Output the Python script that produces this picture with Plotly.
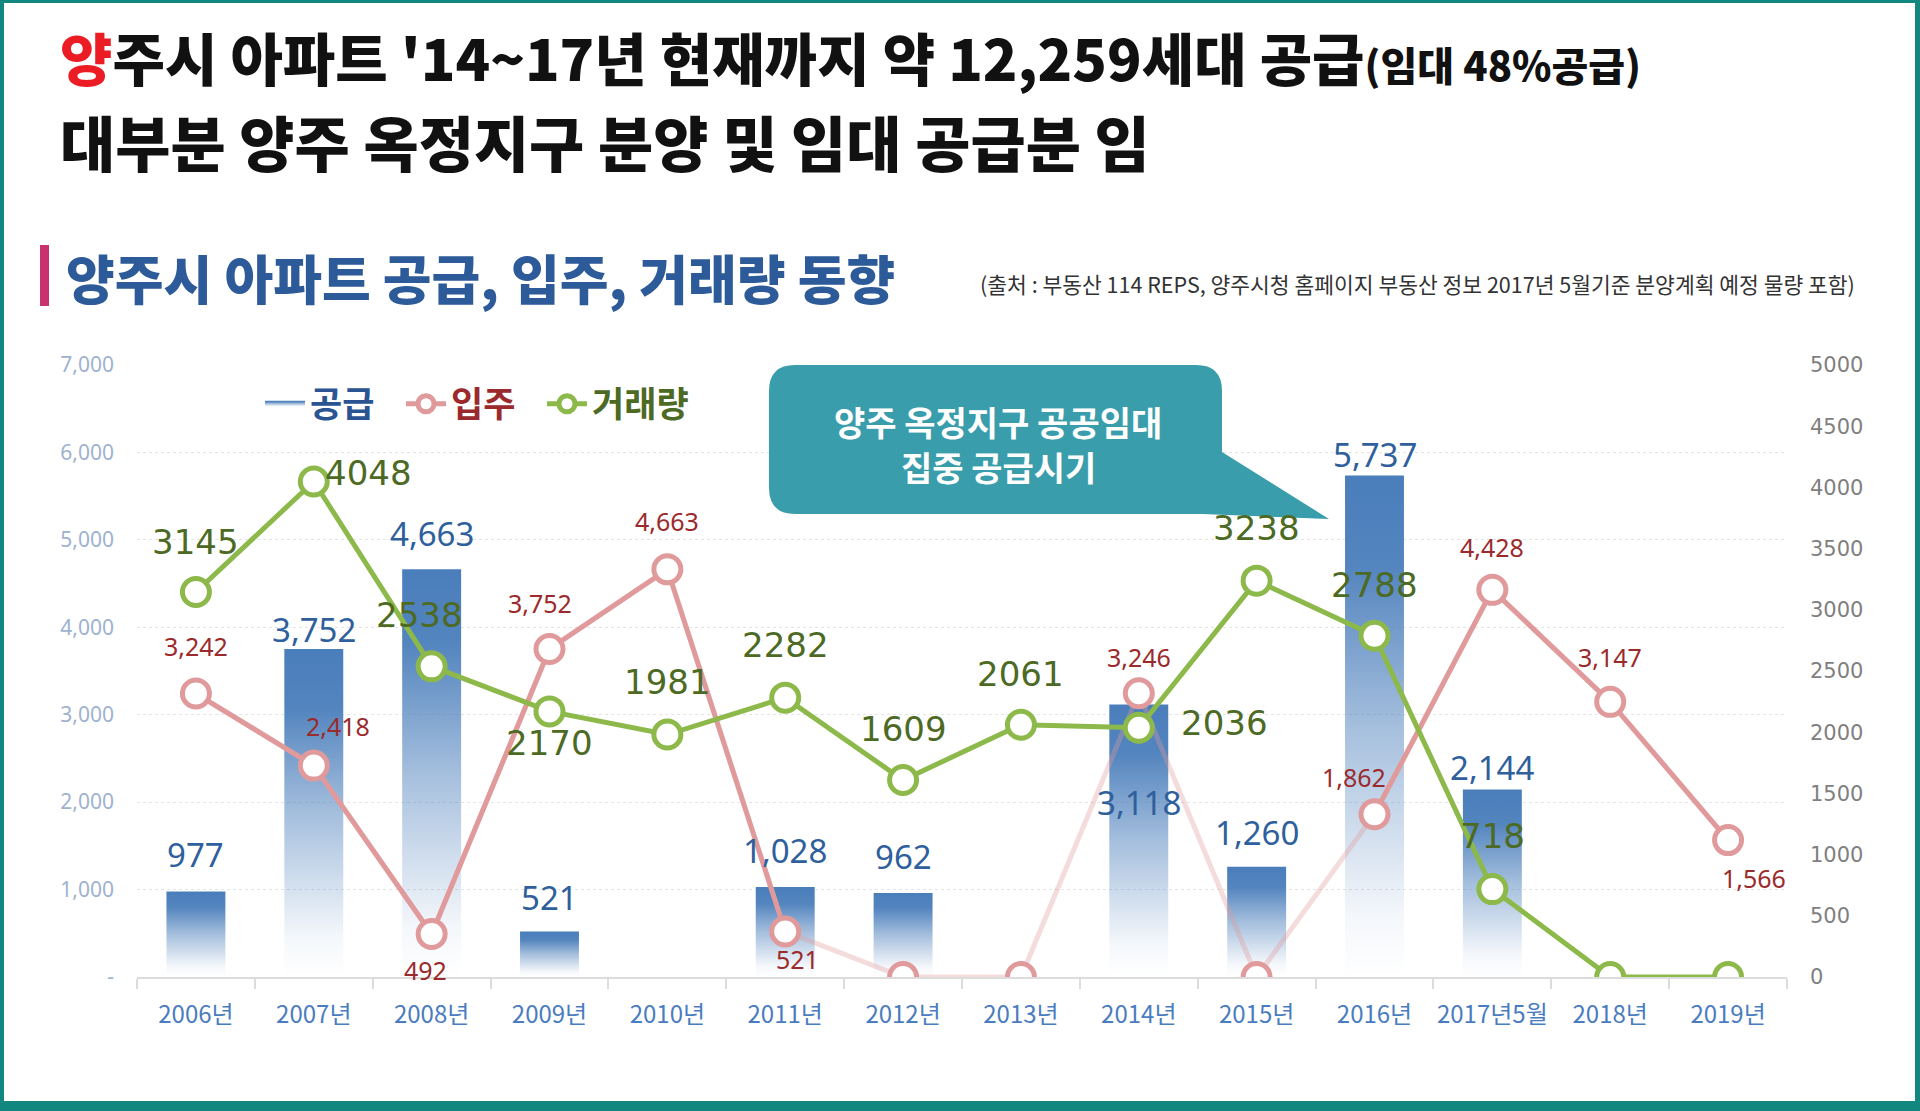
import plotly.graph_objects as go

# ---------------- data ----------------
categories = ['2006년', '2007년', '2008년', '2009년', '2010년', '2011년', '2012년',
              '2013년', '2014년', '2015년', '2016년', '2017년5월', '2018년', '2019년']
supply = [977, 3752, 4663, 521, None, 1028, 962, None, 3118, 1260, 5737, 2144, None, None]   # 공급
movein = [3242, 2418, 492, 3752, 4663, 521, 0, 0, 3246, 0, 1862, 4428, 3147, 1566]            # 입주
trades = [3145, 4048, 2538, 2170, 1981, 2282, 1609, 2061, 2036, 3238, 2788, 718, 0, 0]         # 거래량

left_tickvals = [0, 1000, 2000, 3000, 4000, 5000, 6000, 7000]
left_ticktext = ['-', '1,000', '2,000', '3,000', '4,000', '5,000', '6,000', '7,000']
right_tickvals = [0, 500, 1000, 1500, 2000, 2500, 3000, 3500, 4000, 4500, 5000]
right_ticktext = ['0', '500', '1000', '1500', '2000', '2500', '3000', '3500', '4000', '4500', '5000']

# ---------------- label offsets (style, px) ----------------
blue_dy = [37, 19, 36, 34, 0, 37, 36, 0, -98, 34, 21, 22, 0, 0]
pink_dx = [0, 24, -6, -10, 0, 12, 0, 0, 0, 0, -21, 0, 0, 26]
pink_dy = [48, 40, -36, 46, 48, -28, 0, 0, 36, 0, 37, 43, 45, -38]
green_dx = [0, 55, -12, 0, 0, 0, 0, 0, 86, 0, 0, 0, 0, 0]
green_dy = [50, 9, 51, -32, 53, 53, 51, 51, 5, 53, 51, 53, 0, 0]

# ---------------- colours ----------------
PINK = '#e09a9b'
PINK_FADE = 'rgba(224,154,155,0.35)'
GREEN = '#8cb94a'
BLUE_TXT = '#2f5f9c'
PINK_TXT = '#9b2a2c'
GREEN_TXT = '#4d6a24'
TEAL = '#12877f'

W, H = 1920, 1111
L, R, T, B = 137, 133, 365, 134
PW, PH = W - L - R, H - T - B


def px(x):
    return (x - L) / PW


def py(y):
    return (H - B - y) / PH


xs = list(range(len(categories)))
fig = go.Figure()

# bars with vertical gradient (white at bottom -> blue at top)
first = True
for i, v in enumerate(supply):
    if v is None:
        continue
    fig.add_trace(go.Scatter(
        x=[i - 0.25, i - 0.25, i + 0.25, i + 0.25, i - 0.25],
        y=[0, v, v, 0, 0],
        mode='none', fill='toself',
        fillgradient=dict(type='vertical',
                          colorscale=[[0, 'rgba(74,126,187,0.0)'], [0.12, 'rgba(74,126,187,0.06)'],
                                      [0.5, 'rgba(74,126,187,0.5)'], [0.82, 'rgba(74,126,187,0.95)'],
                                      [1, 'rgba(74,126,187,1)']]),
        name="<span style='color:#2b5592'>공급</span>", legendgroup='supply',
        showlegend=first, hoverinfo='skip'))
    first = False

# 입주 line: faded full path, strong path without zero points, markers
fig.add_trace(go.Scatter(x=xs, y=movein, mode='lines', line=dict(color=PINK_FADE, width=5),
                         showlegend=False, hoverinfo='skip'))
movein_strong = [v if v else None for v in movein]
fig.add_trace(go.Scatter(x=xs, y=movein_strong, mode='lines+markers',
                         line=dict(color=PINK, width=5),
                         marker=dict(size=27, color='white', line=dict(color=PINK, width=5)),
                         name="<span style='color:#9b2a2c'>입주</span>", connectgaps=False))
movein_zero = [v if v == 0 else None for v in movein]
fig.add_trace(go.Scatter(x=xs, y=movein_zero, mode='markers',
                         marker=dict(size=27, color='white', line=dict(color=PINK, width=5)),
                         showlegend=False))

# 거래량 line on right axis
fig.add_trace(go.Scatter(x=xs, y=trades, mode='lines+markers', yaxis='y2',
                         line=dict(color=GREEN, width=5),
                         marker=dict(size=27, color='white', line=dict(color=GREEN, width=5)),
                         name="<span style='color:#4d6a24'>거래량</span>"))
# invisible spacer entry so the last legend label is not clipped
fig.add_trace(go.Scatter(x=[None], y=[None], mode='lines', line=dict(color='rgba(0,0,0,0)'),
                         name=' ', showlegend=True, hoverinfo='skip'))

ann = []
# bar labels
for i, v in enumerate(supply):
    if v is None:
        continue
    ann.append(dict(x=i, y=v, xref='x', yref='y', text=f'{v:,}', showarrow=False,
                    yshift=blue_dy[i], font=dict(family='Noto Sans', size=33, color=BLUE_TXT)))
# 입주 labels
for i, v in enumerate(movein):
    if not v:
        continue
    ann.append(dict(x=i, y=v, xref='x', yref='y', text=f'{v:,}', showarrow=False,
                    xshift=pink_dx[i], yshift=pink_dy[i],
                    font=dict(family='Noto Sans', size=25, color=PINK_TXT)))
# 거래량 labels
for i, v in enumerate(trades):
    if not v:
        continue
    ann.append(dict(x=i, y=v, xref='x', yref='y2', text=f'{v}', showarrow=False,
                    xshift=green_dx[i], yshift=green_dy[i],
                    font=dict(family='DejaVu Sans', size=34, color=GREEN_TXT)))

# title lines
ann.append(dict(xref='paper', yref='paper', x=px(58), y=py(56), xanchor='left', yanchor='middle',
                showarrow=False,
                text="<span style='color:#ec1c24'>양</span>주시 아파트 '14~17년 현재까지 약 12,259세대 공급"
                     "<span style='font-size:40px'>(임대 48%공급)</span>",
                font=dict(family='Noto Sans CJK KR', size=57, color='#111111', weight=900)))
ann.append(dict(xref='paper', yref='paper', x=px(58), y=py(141), xanchor='left', yanchor='middle',
                showarrow=False, text='대부분 양주 옥정지구 분양 및 임대 공급분 임',
                font=dict(family='Noto Sans CJK KR', size=60, color='#111111', weight=900)))
ann.append(dict(xref='paper', yref='paper', x=px(64), y=py(277), xanchor='left', yanchor='middle',
                showarrow=False, text='양주시 아파트 공급, 입주, 거래량 동향',
                font=dict(family='Noto Sans CJK KR', size=53, color='#2d5a98', weight=900)))
ann.append(dict(xref='paper', yref='paper', x=px(978), y=py(283), xanchor='left', yanchor='middle',
                showarrow=False,
                text='(출처 : 부동산 114 REPS, 양주시청 홈페이지 부동산 정보 2017년 5월기준 분양계획 예정 물량 포함)',
                font=dict(family='Noto Sans CJK KR', size=21.5, color='#333333')))
# callout text (two lines)
ann.append(dict(xref='paper', yref='paper', x=px(998), y=py(421), xanchor='center', yanchor='middle',
                showarrow=False, text='양주 옥정지구 공공임대',
                font=dict(family='Noto Sans CJK KR', size=34, color='white', weight=700)))
ann.append(dict(xref='paper', yref='paper', x=px(998), y=py(466), xanchor='center', yanchor='middle',
                showarrow=False, text='집중 공급시기',
                font=dict(family='Noto Sans CJK KR', size=34, color='white', weight=700)))

# shapes: frame, magenta marker, callout
shapes = []


def rect(x0, y0, x1, y1, color, layer='above'):
    return dict(type='rect', xref='paper', yref='paper', x0=px(x0), x1=px(x1), y0=py(y0), y1=py(y1),
                fillcolor=color, line=dict(width=0), layer=layer)


shapes.append(rect(0, 0, 4, H, TEAL))
shapes.append(rect(W - 5, 0, W, H, TEAL))
shapes.append(rect(0, 0, W, 3, TEAL))
shapes.append(rect(0, H - 10, W, H, TEAL))
shapes.append(rect(40, 245, 49, 306, '#c8326e'))

x0, x1, y0, y1, r = 769, 1222, 365, 514, 26
pts = [
    ('M', x0 + r, y0), ('L', x1 - r, y0), ('Q', x1, y0, x1, y0 + r), ('L', x1, 452),
    ('L', 1329, 519), ('L', x1 - 20, y1), ('L', x0 + r, y1), ('Q', x0, y1, x0, y1 - r),
    ('L', x0, y0 + r), ('Q', x0, y0, x0 + r, y0)]
path = ''
for p in pts:
    cmd = p[0]
    coords = p[1:]
    segs = []
    for k in range(0, len(coords), 2):
        segs.append(f'{px(coords[k]):.5f},{py(coords[k + 1]):.5f}')
    path += cmd + ' '.join(segs) + ' '
path += 'Z'
shapes.append(dict(type='path', xref='paper', yref='paper', path=path, fillcolor='#3a9dab',
                   line=dict(width=0), layer='above'))

fig.update_layout(
    width=W, height=H, autosize=False,
    margin=dict(l=L, r=R, t=T, b=B),
    paper_bgcolor='white', plot_bgcolor='white',
    font=dict(family='Noto Sans CJK KR'),
    showlegend=True,
    legend=dict(orientation='h', x=px(260), y=py(404), xanchor='left', yanchor='middle',
                font=dict(family='Noto Sans CJK KR', size=35, weight=700),
                bgcolor='rgba(0,0,0,0)', itemwidth=40, entrywidth=86, entrywidthmode='pixels',
                tracegroupgap=0, traceorder='normal', itemclick=False, itemdoubleclick=False),
    xaxis=dict(range=[-0.5, 13.5], tickmode='array', tickvals=xs, ticktext=categories,
               showgrid=False, zeroline=False, showline=True, linecolor='#dcdcdc', linewidth=2,
               ticks='', ticklabelstandoff=15,
               tickfont=dict(family='Noto Sans CJK KR', size=24, color='#4a7cc0'),
               minor=dict(tickmode='array', tickvals=[i - 0.5 for i in range(len(categories) + 1)],
                          ticks='outside', ticklen=10, tickwidth=2, tickcolor='#dcdcdc', showgrid=False),
               fixedrange=True),
    yaxis=dict(range=[0, 7000], tickmode='array', tickvals=left_tickvals, ticktext=left_ticktext,
               showgrid=True, gridcolor='#e4e4e4', griddash='dot', gridwidth=1,
               zeroline=False, showline=False, ticks='', ticklabelstandoff=22,
               tickfont=dict(family='Noto Sans', size=21, color='#9db2cf'), fixedrange=True),
    yaxis2=dict(range=[0, 5000], overlaying='y', side='right', tickmode='array',
                tickvals=right_tickvals, ticktext=right_ticktext, showgrid=False, zeroline=False,
                showline=False, ticks='', ticklabelstandoff=22,
                tickfont=dict(family='DejaVu Sans', size=21, color='#7f7f7f'), fixedrange=True),
    annotations=ann, shapes=shapes,
)

fig.write_html('out.html')
